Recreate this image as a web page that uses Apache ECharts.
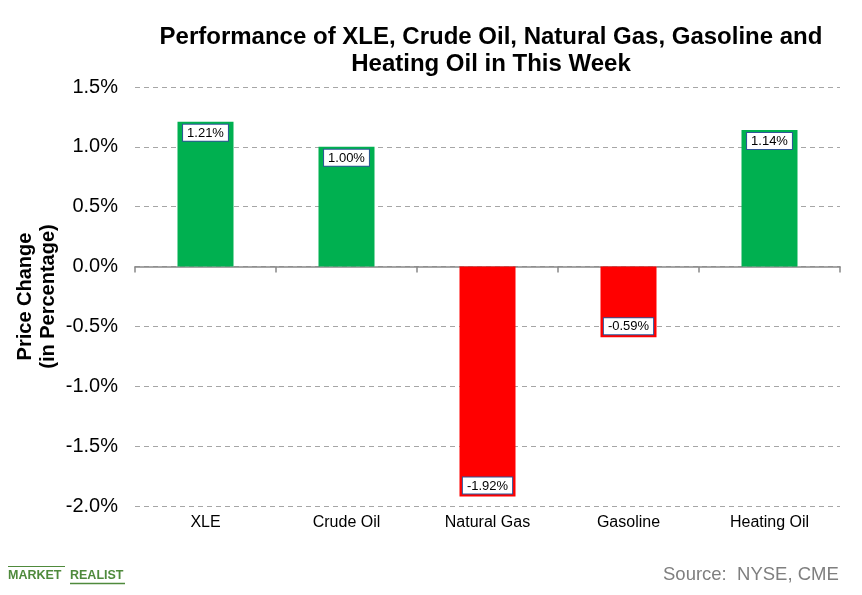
<!DOCTYPE html>
<html>
<head>
<meta charset="utf-8">
<script src="https://cdn.jsdelivr.net/npm/echarts@6/dist/echarts.min.js"></script>
<style>html,body{margin:0;padding:0;background:#fff}#c{width:862px;height:595px}</style>
</head>
<body>
<div id="c"></div>
<script>
const categories = ['XLE', 'Crude Oil', 'Natural Gas', 'Gasoline', 'Heating Oil'];
const values = [1.21, 1.00, -1.92, -0.59, 1.14];
const yTicks = [-2.0, -1.5, -1.0, -0.5, 0.0, 0.5, 1.0, 1.5];

const chart = echarts.init(document.getElementById('c'));
const font = 'Liberation Sans, Arial, sans-serif';
chart.setOption({
  animation: false,
  backgroundColor: '#fff',
  title: {
    text: 'Performance of XLE, Crude Oil, Natural Gas, Gasoline and\nHeating Oil in This Week',
    left: 486, top: 19, textAlign: 'center',
    textStyle: { fontFamily: font, fontSize: 24, fontWeight: 'bold', color: '#000', lineHeight: 27 }
  },
  grid: { left: 135, right: 22, top: 87, bottom: 89 },
  xAxis: [{
    type: 'category', data: categories,
    axisLine: { show: true, onZero: true, lineStyle: { color: '#888', width: 1.5 } },
    axisTick: { show: true, length: 6, lineStyle: { color: '#888', width: 1.5 } },
    axisLabel: { show: false }
  }, {
    type: 'category', data: categories, position: 'bottom',
    axisLine: { show: false, onZero: false }, axisTick: { show: false },
    axisLabel: { fontFamily: font, fontSize: 16, color: '#000', margin: 9 }
  }],
  yAxis: {
    type: 'value', min: yTicks[0], max: yTicks[yTicks.length - 1], interval: 0.5,
    name: 'Price Change\n(in Percentage)', nameLocation: 'middle', nameGap: 75, nameMoveOverlap: false,
    nameTextStyle: { fontFamily: font, fontSize: 20, fontWeight: 'bold', color: '#000', lineHeight: 23 },
    axisLine: { show: false }, axisTick: { show: false },
    axisLabel: { fontFamily: font, fontSize: 20, color: '#000', margin: 17, formatter: v => v.toFixed(1) + '%' },
    splitLine: { lineStyle: { color: '#a6a6a6', type: [5, 4], width: 1.2 } }
  },
  series: [{
    type: 'bar', xAxisIndex: 0, barWidth: 56,
    data: values.map(v => ({
      value: v,
      itemStyle: { color: v >= 0 ? '#00B050' : '#FF0000' },
      label: { position: v >= 0 ? 'insideTop' : 'insideBottom' }
    })),
    label: {
      show: true, distance: 3, formatter: p => p.value.toFixed(2) + '%',
      fontFamily: font, fontSize: 13, color: '#000',
      backgroundColor: '#fff', borderColor: '#2F5597', borderWidth: 1,
      padding: [2, 4, 1, 4]
    }
  }],
  graphic: [
    { type: 'text', left: 663, top: 565, style: { text: 'Source:  NYSE, CME', fontFamily: font, fontSize: 18.5, fill: '#7f7f7f' } },
    { type: 'line', shape: { x1: 8, y1: 566.5, x2: 65, y2: 566.5 }, style: { stroke: '#4f8a3c', lineWidth: 1.2 } },
    { type: 'text', left: 8, top: 569, style: { text: 'MARKET', fontFamily: font, fontSize: 12.5, fontWeight: 'bold', fill: '#4f8a3c' } },
    { type: 'text', left: 70, top: 569, style: { text: 'REALIST', fontFamily: font, fontSize: 12.5, fontWeight: 'bold', fill: '#4f8a3c' } },
    { type: 'line', shape: { x1: 70, y1: 583.5, x2: 125, y2: 583.5 }, style: { stroke: '#4f8a3c', lineWidth: 1.5 } }
  ]
});
</script>
</body>
</html>
